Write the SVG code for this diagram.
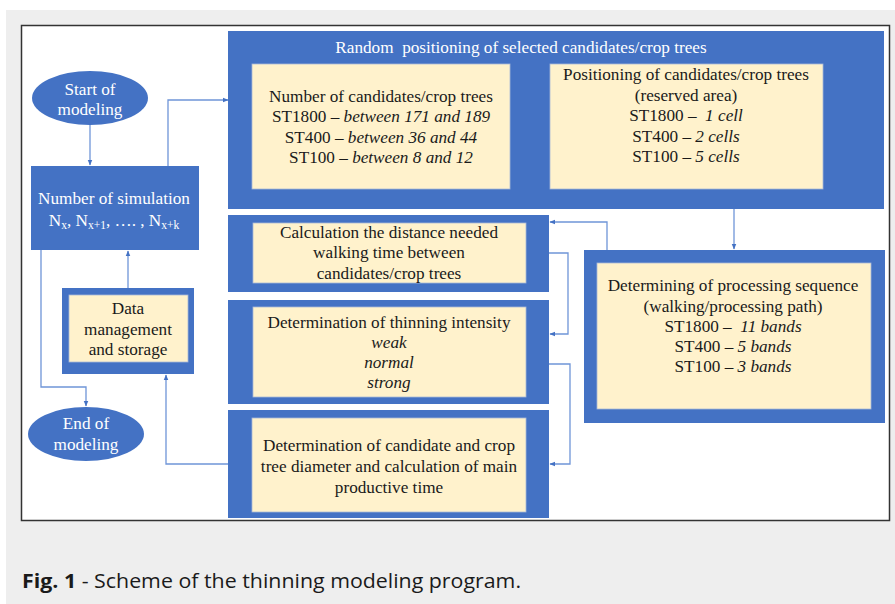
<svg xmlns="http://www.w3.org/2000/svg" width="895" height="604" viewBox="0 0 895 604">
<defs>
<style>
.blue{fill:#4472C4;}
.cream{fill:#FFF2CC;stroke:#A9B8D8;stroke-width:0.8;}
.t{font-family:"Liberation Serif","Times New Roman",serif;font-size:17.2px;fill:#1a1a1a;text-anchor:middle;}
.w{fill:#ffffff;}
.i{font-style:italic;}
.c{fill:none;stroke:#6F95D8;stroke-width:1.3;}
</style>
<marker id="ah" viewBox="0 0 10 10" refX="9" refY="5" markerWidth="6" markerHeight="6" orient="auto" markerUnits="userSpaceOnUse">
<path d="M0,1 L10,5 L0,9 z" fill="#4472C4"/>
</marker>
</defs>
<rect x="0" y="0" width="895" height="604" fill="#ffffff"/>
<rect x="6" y="10" width="889" height="594" fill="#EEEEEE"/>
<rect x="21.5" y="25.5" width="868" height="495" fill="#ffffff" stroke="#333333" stroke-width="1.5"/>

<g id="connectors">
<path class="c" d="M90,125 V165" marker-end="url(#ah)"/>
<path class="c" d="M168,166 V100 H228" marker-end="url(#ah)"/>
<path class="c" d="M41,250 V387 H86 V406" marker-end="url(#ah)"/>
<path class="c" d="M128,288 V251" marker-end="url(#ah)"/>
<path class="c" d="M228,464 H166 V375" marker-end="url(#ah)"/>
<path class="c" d="M734,209 V249" marker-end="url(#ah)"/>
<path class="c" d="M607,250 V222 H550" marker-end="url(#ah)"/>
<path class="c" d="M549,253 H568 V334 H550" marker-end="url(#ah)"/>
<path class="c" d="M549,364 H570 V464 H550" marker-end="url(#ah)"/>
</g>

<g id="start">
<ellipse class="blue" cx="90" cy="98" rx="58" ry="27"/>
<text class="t w" x="90" y="95">Start of</text>
<text class="t w" x="90" y="115">modeling</text>
</g>

<g id="simulation">
<rect class="blue" x="31" y="166" width="168" height="84"/>
<text class="t w" x="114" y="204">Number of simulation</text>
<text class="t w" x="114" y="226">N<tspan font-size="11.5" dy="3">x</tspan><tspan dy="-3">, N</tspan><tspan font-size="11.5" dy="3">x+1</tspan><tspan dy="-3">,  …. , N</tspan><tspan font-size="11.5" dy="3">x+k</tspan></text>
</g>

<g id="data">
<rect class="blue" x="62" y="288" width="132" height="86"/>
<rect class="cream" x="69" y="295" width="119" height="67"/>
<text class="t" x="128" y="314">Data</text>
<text class="t" x="128" y="335">management</text>
<text class="t" x="128" y="355">and storage</text>
</g>

<g id="end">
<ellipse class="blue" cx="86" cy="434" rx="58" ry="27"/>
<text class="t w" x="86" y="429">End of</text>
<text class="t w" x="86" y="450">modeling</text>
</g>

<g id="random">
<rect class="blue" x="228" y="31" width="656" height="178"/>
<text class="t w" x="521" y="53" xml:space="preserve">Random  positioning of selected candidates/crop trees</text>
<rect class="cream" x="252" y="64" width="258" height="125"/>
<text class="t" x="381" y="102">Number of candidates/crop trees</text>
<text class="t" x="381" y="122">ST1800 – <tspan class="i">between 171 and 189</tspan></text>
<text class="t" x="381" y="143">ST400 – <tspan class="i">between 36 and 44</tspan></text>
<text class="t" x="381" y="163">ST100 – <tspan class="i">between 8 and 12</tspan></text>
<rect class="cream" x="550" y="64" width="273" height="125"/>
<text class="t" x="686" y="80">Positioning of candidates/crop trees</text>
<text class="t" x="686" y="101">(reserved area)</text>
<text class="t" x="686" y="121" xml:space="preserve">ST1800 –  <tspan class="i">1 cell</tspan></text>
<text class="t" x="686" y="142">ST400 – <tspan class="i">2 cells</tspan></text>
<text class="t" x="686" y="162">ST100 – <tspan class="i">5 cells</tspan></text>
</g>

<g id="calculation">
<rect class="blue" x="228" y="215" width="321" height="77"/>
<rect class="cream" x="253" y="223" width="273" height="60"/>
<text class="t" x="389" y="238">Calculation the distance needed</text>
<text class="t" x="389" y="258">walking time between</text>
<text class="t" x="389" y="279">candidates/crop trees</text>
</g>

<g id="thinning">
<rect class="blue" x="228" y="300" width="321" height="104"/>
<rect class="cream" x="253" y="307" width="273" height="90"/>
<text class="t" x="389" y="328">Determination of thinning intensity</text>
<text class="t i" x="389" y="348">weak</text>
<text class="t i" x="389" y="368">normal</text>
<text class="t i" x="389" y="388">strong</text>
</g>

<g id="diameter">
<rect class="blue" x="228" y="410" width="321" height="108"/>
<rect class="cream" x="252" y="418" width="274" height="94"/>
<text class="t" x="389" y="451">Determination of candidate and crop</text>
<text class="t" x="389" y="472">tree diameter and calculation of main</text>
<text class="t" x="389" y="493">productive time</text>
</g>

<g id="sequence">
<rect class="blue" x="584" y="250" width="301" height="173"/>
<rect class="cream" x="597" y="263" width="274" height="146"/>
<text class="t" x="733" y="291">Determining of processing sequence</text>
<text class="t" x="733" y="312">(walking/processing path)</text>
<text class="t" x="733" y="332" xml:space="preserve">ST1800 –  <tspan class="i">11 bands</tspan></text>
<text class="t" x="733" y="352">ST400 – <tspan class="i">5 bands</tspan></text>
<text class="t" x="733" y="372">ST100 – <tspan class="i">3 bands</tspan></text>
</g>

<text x="22" y="588" font-family="'Open Sans','Noto Sans',sans-serif" font-size="20" fill="#1a1a1a" textLength="499" lengthAdjust="spacingAndGlyphs"><tspan font-weight="bold">Fig. 1</tspan> - Scheme of the thinning modeling program.</text>
</svg>
